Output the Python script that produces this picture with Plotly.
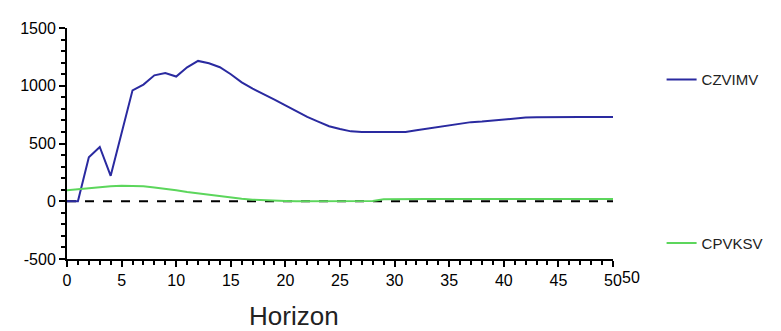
import plotly.graph_objects as go

horizon = list(range(0, 51))
czvimv = [0, 0, 380, 470, 220, 600, 960, 1010, 1090, 1110,
          1080, 1160, 1215, 1195, 1160, 1100, 1030, 975, 930, 880,
          830, 780, 730, 690, 650, 625, 605, 600, 600, 600,
          600, 600, 615, 630, 640, 655, 670, 685, 690, 700,
          705, 715, 725, 728, 730, 730, 730, 730, 730, 730, 730]
cpvksv = [95, 105, 115, 120, 130, 135, 135, 130, 120, 110,
          95, 80, 68, 55, 42, 32, 22, 14, 8, 5,
          2, 0, 0, 0, 0, 0, 0, 0, 2, 18,
          20, 20, 20, 20, 20, 20, 20, 20, 20, 20,
          20, 20, 20, 20, 20, 20, 20, 20, 20, 20, 20]
zero_x = [0, 50]
zero_y = [0, 0]
y_ticks = [-500, 0, 500, 1000, 1500]
x_ticks = list(range(0, 51, 5))

fig = go.Figure()
fig.add_trace(go.Scatter(x=zero_x, y=zero_y, mode="lines",
                         line=dict(color="black", width=2, dash="dash"),
                         showlegend=False, hoverinfo="skip"))
fig.add_trace(go.Scatter(x=horizon, y=czvimv, mode="lines", name="CZVIMV",
                         line=dict(color="#2a2aa0", width=2), legendgroup="a"))
fig.add_trace(go.Scatter(x=horizon, y=cpvksv, mode="lines", name="CPVKSV",
                         line=dict(color="#5cd65c", width=2), legendgroup="b"))

# page body has an 8px margin, so the figure is sized to fit the 781x331 window
fig.update_layout(
    width=773, height=323,
    margin=dict(l=55, r=168, t=14, b=72),
    paper_bgcolor="white", plot_bgcolor="white",
    font=dict(family="Liberation Sans", color="black", size=16),
    legend=dict(x=1.089, y=0.847, xanchor="left", yanchor="top",
                tracegroupgap=141, itemwidth=30,
                font=dict(size=15, color="#222"), bgcolor="rgba(0,0,0,0)"),
    showlegend=True,
)
fig.update_xaxes(range=[0, 50], tickvals=x_ticks, ticktext=[str(v) for v in x_ticks],
                 showgrid=False, zeroline=False, showline=True, linecolor="black",
                 linewidth=2, ticks="outside", ticklen=6, tickwidth=2, tickcolor="black",
                 minor=dict(dtick=1, ticks="outside", ticklen=4, tickwidth=1.5, tickcolor="black"),
                 tickfont=dict(size=16))
fig.update_yaxes(range=[-500, 1500], tickvals=y_ticks, ticktext=[str(v) for v in y_ticks],
                 showgrid=False, zeroline=False, showline=True, linecolor="black",
                 linewidth=2, ticks="outside", ticklen=6, tickwidth=2, tickcolor="black",
                 minor=dict(dtick=100, ticks="outside", ticklen=4, tickwidth=1.5, tickcolor="black"),
                 tickfont=dict(size=16))
fig.add_annotation(text="Horizon", xref="paper", yref="paper", x=0.415, y=-0.245,
                   xanchor="center", yanchor="middle", showarrow=False,
                   font=dict(size=26, color="#222"))
fig.add_annotation(text="50", xref="paper", yref="paper", x=1.0, y=0, xshift=18, yshift=-8,
                   xanchor="center", yanchor="top", showarrow=False,
                   font=dict(size=16, color="black"))

fig.write_html("out.html")
